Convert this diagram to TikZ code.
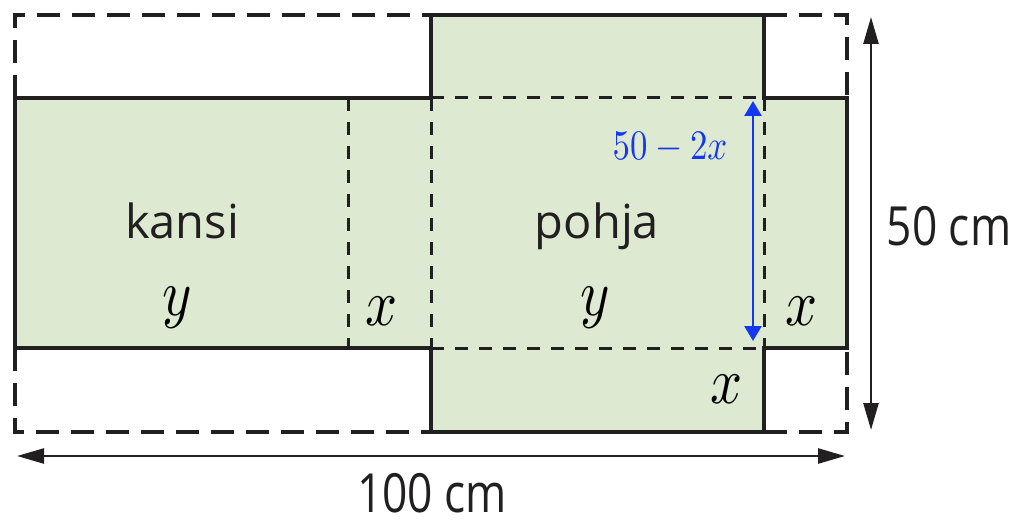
\documentclass[tikz,border=0pt]{standalone}
\usepackage[no-math]{fontspec}
\newfontfamily\osans{Open Sans}
\usetikzlibrary{arrows.meta}
\definecolor{lineC}{RGB}{34,31,32}
\definecolor{greenC}{RGB}{221,233,208}
\definecolor{blueC}{RGB}{20,55,240}
\tikzset{
  solidline/.style={draw=lineC, line width=3.2pt},
  outerdash/.style={draw=lineC, line width=3.2pt, dash pattern=on 23pt off 12pt},
  innerdash/.style={draw=lineC, line width=3pt, dash pattern=on 13pt off 11pt},
  dimarrowboth/.style={draw=lineC, line width=2.4pt, {Triangle[length=27pt,width=15pt]}-{Triangle[length=27pt,width=15pt]}},
  bluearrow/.style={draw=blueC, line width=2.6pt, {Triangle[length=15pt,width=17pt]}-{Triangle[length=15pt,width=17pt]}},
  word/.style={inner sep=0pt, anchor=base, text=lineC, font=\osans\fontsize{47}{50}\selectfont},
  dimlabel/.style={inner sep=0pt, anchor=base, text depth=0pt, text=lineC, xscale=0.82, font=\osans\fontsize{54}{58}\selectfont},
  mathlabel/.style={inner sep=0pt, anchor=base, text=black, scale=6.6, xscale=0.85, font=\fontsize{10}{12}\selectfont},
  bluelabel/.style={inner sep=0pt, anchor=base, text=blueC, scale=4.2, xscale=0.83, font=\fontsize{10}{12}\selectfont}
}
\begin{document}
\begin{tikzpicture}[x=1pt,y=-1pt]
\useasboundingbox (0,0) rectangle (1024,521);
% key coordinates
\coordinate (a1) at (15,15);   \coordinate (a2) at (431,15);
\coordinate (a3) at (764,15);  \coordinate (a4) at (847,15);
\coordinate (b1) at (15,98);   \coordinate (b2) at (348,98);
\coordinate (b3) at (431,98);  \coordinate (b4) at (764,98);
\coordinate (b5) at (847,98);
\coordinate (c1) at (15,348);  \coordinate (c2) at (348,348);
\coordinate (c3) at (431,348); \coordinate (c4) at (764,348);
\coordinate (c5) at (847,348);
\coordinate (d1) at (15,432);  \coordinate (d2) at (431,432);
\coordinate (d3) at (764,432); \coordinate (d4) at (847,432);
% green fills
\fill[greenC] (b1) rectangle (c5);
\fill[greenC] (a2) rectangle (d3);
% outer dashed parts
\draw[outerdash] (b1) -- (a1) -- (a2);
\draw[outerdash] (c1) -- (d1) -- (d2);
\draw[outerdash] (a3) -- (a4) -- (b5);
\draw[outerdash] (d3) -- (d4) -- (c5);
% inner dashed folds
\draw[innerdash] (b3) -- (b4);
\draw[innerdash] (c3) -- (c4);
\draw[innerdash] (b2) -- (c2);
\draw[innerdash] (b3) -- (c3);
\draw[innerdash] (b4) -- (c4);
% solid outline
\draw[solidline, line join=miter] (b3) -- (b1) -- (c1) -- (c3);
\draw[solidline, line join=miter] (b3) -- (a2) -- (a3) -- (b4) -- (b5) -- (c5) -- (c4) -- (d3) -- (d2) -- (c3);
% dimension arrows
\coordinate (v1) at (871,17); \coordinate (v2) at (871,430);
\coordinate (h1) at (17,456); \coordinate (h2) at (845,456);
\draw[dimarrowboth] (v1) -- (v2);
\draw[dimarrowboth] (h1) -- (h2);
\coordinate (bu1) at (753,101); \coordinate (bu2) at (753,341);
\draw[bluearrow] (bu1) -- (bu2);
% labels
\node[word] (kansi) at (182,238) {kansi};
\node[word] (pohja) at (597,238) {pohja};
\node[mathlabel] (y1) at (177,315) {$y$};
\node[mathlabel] (y2) at (595,315) {$y$};
\node[mathlabel] (x1) at (382,325) {$x$};
\node[mathlabel] (x2) at (802,325) {$x$};
\node[mathlabel] (x3) at (727,403) {$x$};
\node[bluelabel] (blab) at (670,160) {$50-2x$};
\node[dimlabel] (h50) at (949,245) {50 cm};
\node[dimlabel] (w100) at (432,512) {100 cm};
\end{tikzpicture}
\end{document}
